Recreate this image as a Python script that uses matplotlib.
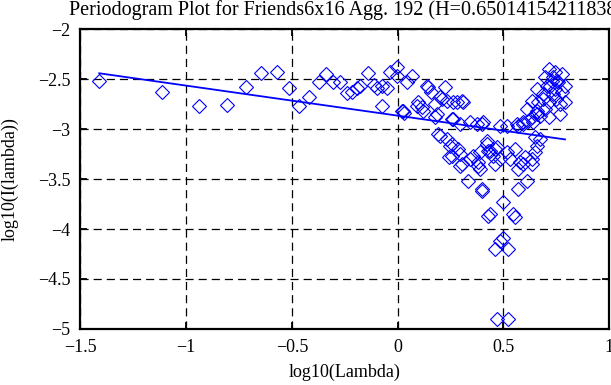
import matplotlib
matplotlib.use('Agg')
import matplotlib.pyplot as plt

plt.rcParams['font.family'] = ['Liberation Serif', 'DejaVu Serif']

# log10(Lambda) vs log10(I(lambda))
log_lambda = [-1.411, -1.115, -0.937, -0.809, -0.716, -0.648, -0.568, -0.512, -0.464, -0.418,
              -0.374, -0.338, -0.306, -0.272, -0.240, -0.217, -0.193, -0.177, -0.138, -0.110,
              -0.098, -0.051, -0.075, -0.035, -0.004, -0.075, 0.020, 0.031, 0.043, 0.067,
              -0.004, 0.090, 0.098, 0.114, 0.122, 0.138, 0.146, 0.160, 0.177, 0.185,
              0.177, 0.201, 0.209, 0.225, 0.233, 0.264, 0.280, 0.303, 0.311, 0.256,
              0.264, 0.296, 0.343, 0.374, 0.398, 0.406, 0.027, 0.193, 0.201, 0.233,
              0.248, 0.256, 0.287, 0.296, 0.256, 0.241, 0.296, 0.303, 0.343, 0.358,
              0.382, 0.382, 0.390, 0.422, 0.422, 0.430, 0.437, 0.453, 0.461, 0.469,
              0.461, 0.485, 0.485, 0.516, 0.516, 0.532, 0.556, 0.564, 0.571, 0.579,
              0.595, 0.603, 0.595, 0.618, 0.634, 0.634, 0.634, 0.650, 0.658, 0.674,
              0.650, 0.658, 0.390, 0.335, 0.398, 0.398, 0.571, 0.611, 0.497, 0.430,
              0.437, 0.548, 0.556, 0.497, 0.485, 0.461, 0.524, 0.469, 0.524,
              0.714, 0.745, 0.776, 0.697, 0.729, 0.760, 0.792, 0.705, 0.745, 0.776,
              0.658, 0.689, 0.634, 0.666, 0.714, 0.768, 0.792, 0.611, 0.658, 0.697,
              0.674, 0.714, 0.768, 0.642, 0.595, 0.571, 0.737, 0.752, 0.721, 0.737,
              0.690, 0.750]
log_power = [-2.523, -2.627, -2.773, -2.760, -2.583, -2.440, -2.433, -2.593, -2.773, -2.677,
             -2.533, -2.450, -2.533, -2.533, -2.640, -2.627, -2.593, -2.567, -2.440, -2.560,
             -2.593, -2.593, -2.767, -2.433, -2.383, -2.567, -2.817, -2.843, -2.533, -2.467,
             -2.467, -2.767, -2.733, -2.783, -2.817, -2.567, -2.583, -2.633, -2.750, -2.850,
             -2.883, -2.683, -2.700, -2.583, -2.717, -2.733, -2.733, -2.717, -2.733, -2.900,
             -2.900, -2.950, -2.933, -2.950, -2.950, -2.933, -2.817, -3.050, -3.067, -3.100,
             -3.167, -3.150, -3.200, -3.250, -3.267, -3.283, -3.367, -3.350, -3.300, -3.267,
             -3.333, -3.367, -3.233, -3.117, -3.150, -3.217, -3.217, -3.267, -3.200, -3.183,
             -3.350, -3.300, -2.967, -2.967, -3.233, -3.300, -3.200, -2.950, -3.400, -3.333,
             -3.350, -3.283, -2.933, -2.917, -2.883, -3.300, -3.350, -3.233, -3.167, -3.100,
             -3.083, -2.850, -3.400, -3.517, -3.600, -3.617, -3.600, -3.517, -3.733, -3.867,
             -3.850, -3.850, -3.883, -4.093, -4.117, -4.200, -4.200, -4.900, -4.900,
             -2.400, -2.433, -2.450, -2.483, -2.517, -2.533, -2.567, -2.567, -2.600, -2.633,
             -2.600, -2.650, -2.717, -2.733, -2.733, -2.750, -2.733, -2.800, -2.817, -2.800,
             -2.867, -2.883, -2.850, -2.933, -2.950, -2.967, -2.483, -2.517, -2.567, -2.650,
             -2.700, -2.700]

# least squares fit line
H = 0.650141542118383
slope = 1 - 2 * H
intercept = -2.866
fit_x = [min(log_lambda), max(log_lambda)]
fit_y = [intercept + slope * v for v in fit_x]

x_ticks = [-1.5, -1, -0.5, 0, 0.5, 1]
y_ticks = [-5, -4.5, -4, -3.5, -3, -2.5, -2]

fig = plt.figure(figsize=(6.11, 3.85), dpi=100)
ax = fig.add_axes([0.1317, 0.1455, 0.865, 0.779])

ax.plot(log_lambda, log_power, linestyle='none', marker='D', markersize=7,
        markerfacecolor='none', markeredgecolor='#0000ff', markeredgewidth=0.8)
ax.plot(fit_x, fit_y, color='#0000ff', linewidth=1.3)

ax.set_xlim(-1.5, 1)
ax.set_ylim(-5, -2)
ax.set_xticks(x_ticks)
ax.set_yticks(y_ticks)
ax.set_xticklabels(['\u22121.5', '\u22121', '\u22120.5', '0', '0.5', '1'])
ax.set_yticklabels(['\u22125', '\u22124.5', '\u22124', '\u22123.5', '\u22123', '\u22122.5', '\u22122'])
ax.tick_params(direction='in', top=True, right=True, length=5, width=1.3,
               labelsize=13, colors='black')
ax.tick_params(axis='x', pad=7)
ax.tick_params(axis='y', pad=7)
for s in ax.spines.values():
    s.set_linewidth(1.6)
ax.grid(True, color='black', linestyle=(0, (6.5, 4)), linewidth=0.9)

ax.set_xlabel('log10(Lambda)', fontsize=13, labelpad=6)
ax.set_ylabel('log10(I(lambda))', fontsize=13, labelpad=14)
fig.text(69 / 611, 0.962, 'Periodogram Plot for Friends6x16 Agg. 192 (H=0.650141542118383)',
         fontsize=14.5, ha='left', va='baseline')

fig.savefig('out.png', dpi=100)
